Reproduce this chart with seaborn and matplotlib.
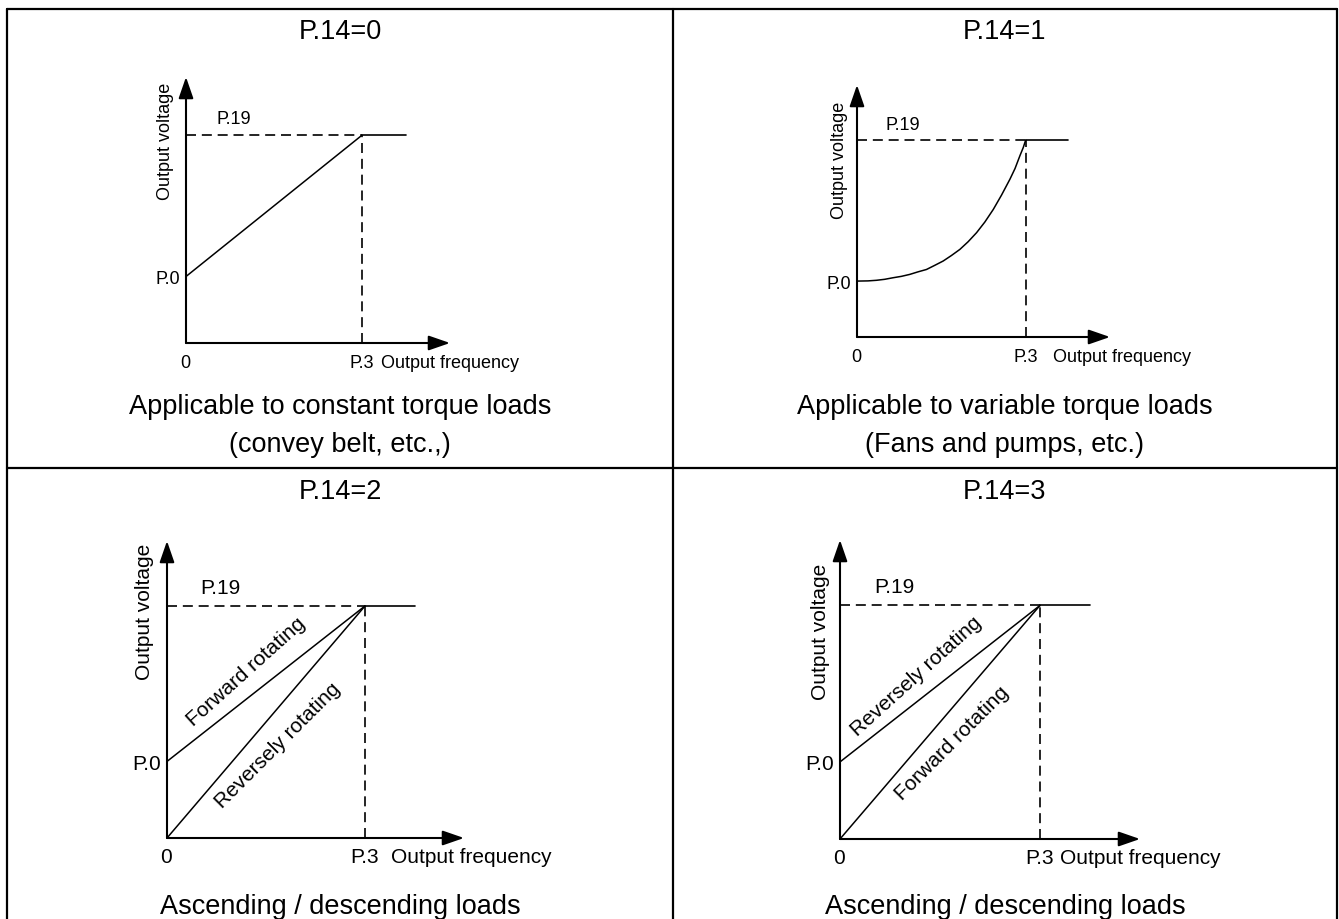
import numpy as np
import seaborn as sns
import matplotlib.pyplot as plt
from matplotlib.lines import Line2D

sns.set_style('white')
plt.rcParams['font.family'] = ['Liberation Sans', 'DejaVu Sans']
plt.rcParams['text.color'] = 'black'

# values in units where P.3 = 1 (frequency) and P.19 = 1 (voltage)
titles = ['P.14=0', 'P.14=1', 'P.14=2', 'P.14=3']
captions = [['Applicable to constant torque loads', '(convey belt, etc.,)'],
            ['Applicable to variable torque loads', '(Fans and pumps, etc.)'],
            ['Ascending / descending loads'],
            ['Ascending / descending loads']]
p3 = 1.0
p19 = 1.0
flat_end = 1.25
p0_levels = [0.32, 0.284, 0.33, 0.33]

# square-law curve of P.14=1
vt_x = [0, 0.065, 0.115, 0.164, 0.214, 0.263, 0.313, 0.362, 0.412, 0.461, 0.511, 0.560,
        0.610, 0.659, 0.709, 0.758, 0.808, 0.857, 0.907, 0.937, 0.966, 0.986, 1.0]
vt_y = [0.284, 0.285, 0.288, 0.293, 0.301, 0.308, 0.318, 0.331, 0.343, 0.364, 0.386, 0.414,
        0.445, 0.484, 0.530, 0.584, 0.648, 0.721, 0.802, 0.856, 0.921, 0.963, 1.0]

# rotated labels of the two lifting panels: (text, x, y, angle)
rot_labels = {2: [('Forward rotating', 0.40, 0.72, 42), ('Reversely rotating', 0.56, 0.40, 45)],
              3: [('Reversely rotating', 0.38, 0.70, 42), ('Forward rotating', 0.56, 0.415, 45)]}

# layout (pixels): origin x, origin y, x arrow tip, y arrow tip
W, H = 1339, 920
origins = [(186, 344, 450, 78), (857, 338, 1110, 86), (167, 839, 464, 542), (840, 840, 1140, 541)]
freq_label_x = [1.108, 1.165, 1.131, 1.10]
volt_label = [(21, 0.976), (17, 0.904), (22, 0.978), (20, 0.889)]
small_fs = [13, 13, 15, 15]
xmax, ymax = 1.5, 1.28

fig = plt.figure(figsize=(W / 100, H / 100), dpi=100)

# table grid
def hline(y, x0, x1):
    fig.add_artist(Line2D([x0 / W, x1 / W], [1 - y / H, 1 - y / H], color='black', lw=1.6))

def vline(x, y0, y1):
    fig.add_artist(Line2D([x / W, x / W], [1 - y0 / H, 1 - y1 / H], color='black', lw=1.6))

hline(10, 7, 1337)
hline(469, 7, 1337)
vline(7, 10, 925)
vline(673, 10, 925)
vline(1337, 10, 925)

cell_cx = [340, 1005, 340, 1005]
title_y = [32, 32, 492, 492]
cap_y = [[407, 445], [407, 445], [907], [907]]

dash = (0, (6, 3.5))


def draw(ax, xs, ys, lw=1.1, ls='-'):
    sns.lineplot(x=xs, y=ys, ax=ax, color='black', lw=lw, linestyle=ls,
                 sort=False, estimator=None, clip_on=False)


for i in range(4):
    ox, oy, xt, yt = origins[i]
    ax = fig.add_axes([ox / W, 1 - oy / H, (xt - ox) / W, (oy - yt) / H])
    ax.set_xlim(0, xmax)
    ax.set_ylim(0, ymax)
    ax.axis('off')
    fs = small_fs[i]
    p0 = p0_levels[i]

    # axes with arrows
    for tip in [(xmax, 0), (0, ymax)]:
        ax.annotate('', xy=tip, xytext=(0, 0), annotation_clip=False,
                    arrowprops=dict(arrowstyle='-|>,head_length=1.3,head_width=0.45',
                                    color='black', lw=1.5, shrinkA=0, shrinkB=0))

    # reference lines
    draw(ax, [0, p3], [p19, p19], lw=1.2, ls=dash)
    draw(ax, [p3, p3], [0, p19], lw=1.2, ls=dash)
    draw(ax, [p3, flat_end], [p19, p19], lw=1.2)

    # V/F curves
    if i == 1:
        draw(ax, vt_x, vt_y)
    else:
        draw(ax, [0, p3], [p0, p19])
    if i >= 2:
        draw(ax, [0, p3], [0, p19])

    # labels
    ax.text(0.27, 1.08, 'P.19', fontsize=fs, ha='center', va='center')
    ax.annotate('P.0', xy=(0, p0), xytext=(-6, -2), textcoords='offset pixels',
                fontsize=fs, ha='right', va='center', annotation_clip=False)
    ax.annotate('0', xy=(0, 0), xytext=(-1, -19), textcoords='offset pixels',
                fontsize=fs, ha='center', va='center', annotation_clip=False)
    ax.annotate('P.3', xy=(p3, 0), xytext=(0, -19), textcoords='offset pixels',
                fontsize=fs, ha='center', va='center', annotation_clip=False)
    ax.annotate('Output frequency', xy=(freq_label_x[i], 0), xytext=(0, -19), textcoords='offset pixels',
                fontsize=fs, ha='left', va='center', annotation_clip=False)
    off, vy = volt_label[i]
    ax.annotate('Output voltage', xy=(0, vy), xytext=(-off, 0), textcoords='offset pixels',
                fontsize=fs, ha='center', va='center', rotation=90, annotation_clip=False)
    for txt, tx, ty, ang in rot_labels.get(i, []):
        ax.text(tx, ty, txt, fontsize=15, ha='center', va='center', rotation=ang,
                rotation_mode='anchor')

    # cell title and caption
    fig.text(cell_cx[i] / W, 1 - title_y[i] / H, titles[i], fontsize=19.5, ha='center', va='center')
    for line, cy in zip(captions[i], cap_y[i]):
        fig.text(cell_cx[i] / W, 1 - cy / H, line, fontsize=19.5, ha='center', va='center')

fig.savefig('out.png', dpi=100, facecolor='white')
